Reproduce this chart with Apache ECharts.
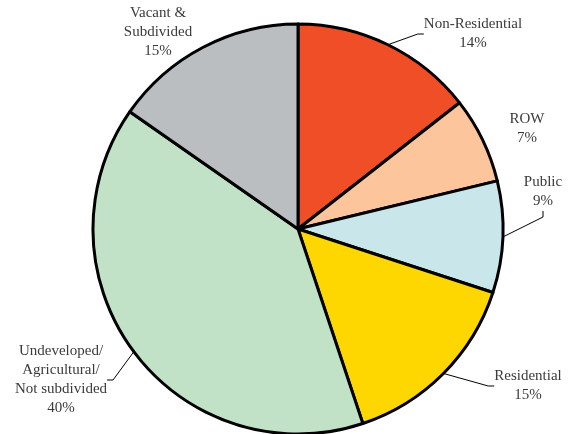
<!DOCTYPE html>
<html>
<head>
<meta charset="utf-8">
<script src="https://cdn.jsdelivr.net/npm/echarts@6/dist/echarts.min.js"></script>
<style>
  html, body { margin: 0; padding: 0; background: #fff; }
  #chart { width: 572px; height: 434px; }
</style>
</head>
<body>
<div id="chart"></div>
<script>
// land use shares
const categories = ['Non-Residential', 'ROW', 'Public', 'Residential', 'Undeveloped/\nAgricultural/\nNot subdivided', 'Vacant &\nSubdivided'];
const values = [14.44, 6.78, 8.78, 14.86, 39.8, 15.3];
const colors = ['#F04E26', '#FDC59B', '#C9E7EA', '#FFD700', '#C2E2C7', '#BBBEC0'];
const hasLeader = [true, false, true, true, true, false];

// label block centres in px
const labelPos = [[473, 34], [527, 129], [543, 192], [528, 386], [61, 380], [158, 32]];

const chart = echarts.init(document.getElementById('chart'));

const option = {
    animation: false,
    backgroundColor: '#fff',
    series: [{
        type: 'pie',
        center: [298, 229],
        radius: 205,
        startAngle: 90,
        clockwise: true,
        percentPrecision: 0,
        itemStyle: {
            borderColor: '#000',
            borderWidth: 3
        },
        label: {
            show: true,
            formatter: '{b}\n{d}%',
            fontFamily: 'Liberation Serif',
            fontSize: 15,
            lineHeight: 19,
            color: '#3a3a3a',
            align: 'center'
        },
        labelLine: {
            show: true,
            length: 8,
            length2: 6,
            lineStyle: { color: '#000', width: 1 }
        },
        labelLayout: function (params) {
            const p = labelPos[params.dataIndex];
            return { x: p[0], y: p[1], align: 'center', verticalAlign: 'middle' };
        },
        emphasis: { disabled: true },
        data: categories.map(function (name, i) {
            return {
                name: name,
                value: values[i],
                itemStyle: { color: colors[i] },
                labelLine: { show: hasLeader[i] }
            };
        })
    }]
};

chart.setOption(option);
</script>
</body>
</html>
